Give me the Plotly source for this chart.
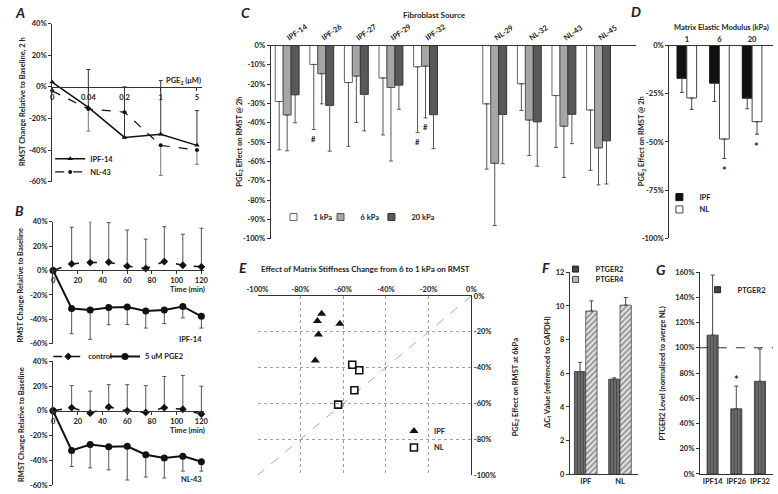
import plotly.graph_objects as go

W, H = 778, 494
def X(px): return px / W
def Y(py): return 1 - py / H

FONT = "Lato"
INK = "#222222"

# ---------------- data ----------------
# Panel A
A_conc = ["0", "0.04", "0.2", "1", "5"]
A_ipf14 = [3, -13, -32, -30, -37]
A_ipf14_err = [0, 24, 32, 34, 22]
A_nl43 = [-2.5, -14, -16, -37, -40]
A_nl43_err = [0, 14, 0, 19, 9]

# Panel B
B_time = [0, 15, 30, 45, 60, 75, 90, 105, 120]
B_ticks = [0, 20, 40, 60, 80, 100, 120]
B1_control = [0, 5.4, 6.5, 6.8, 3.5, 1.6, 7.3, 4.3, 3]
B1_control_err = [0, 30, 33.5, 32.4, 29.7, 24.1, 28.6, 25.4, 31.6]
B1_pge2 = [0, -31.1, -32.4, -30.3, -30, -33.2, -32.4, -29.5, -37.6]
B1_pge2_err = [0, 20.7, 24, 14.2, 14.3, 14, 11.1, 9.4, 9.6]
B2_control = [0, 2.6, -1.9, 3.2, 0, -1.3, 2.6, 1.3, -2.6]
B2_control_err = [0, 17.8, 17.8, 18, 21.2, 21.7, 25.2, 27.3, 22.5]
B2_pge2 = [0, -32, -27.3, -29.1, -28.6, -35.5, -38.1, -36.6, -41.1]
B2_pge2_err = [0, 13, 18.8, 18.6, 27.3, 18, 16.2, 12.1, 7.6]

# Panel C
C_sources = ["IPF-14", "IPF-26", "IPF-27", "IPF-29", "IPF-32", "NL-29", "NL-32", "NL-43", "NL-45"]
C_1kpa = [-29, -9.8, -19.2, -16.8, -11, -30.2, -19.8, -25.9, -33.4]
C_1kpa_err = [25, 33.7, 33, 29.5, 34.1, 33.8, 13.8, 26.8, 31.2]
C_6kpa = [-36, -14.6, -15.8, -21.7, -10.7, -61, -38.6, -41.8, -53]
C_6kpa_err = [18.5, 15.6, 24, 38.1, 26.8, 32.2, 18.4, 26.5, 19.2]
C_20kpa = [-25.5, -31, -25.3, -20.5, -35.8, -35.7, -39.5, -35.6, -49.3]
C_20kpa_err = [14.5, 23.7, 18.9, 12.5, 17.6, 25.5, 23, 15.2, 22.4]
C_hash = [("IPF-26", 0, -48.5), ("IPF-32", 0, -50), ("IPF-32", 1, -42.4)]

# Panel D
D_modulus = ["1", "6", "20"]
D_ipf = [-17, -19.5, -27.3]
D_ipf_err = [7.3, 9.5, 5.5]
D_nl = [-27.2, -48.5, -39.5]
D_nl_err = [5.9, 10.1, 6.5]
D_star = [("6", -64.7), ("20", -52.3)]

# Panel E
E_ipf_x = [-70, -72, -61.5, -71.5, -73]
E_ipf_y = [-10, -14, -15.5, -21.5, -36]
E_nl_x = [-55.7, -52.4, -54.7, -62.3]
E_nl_y = [-38.4, -41.5, -52.6, -60.6]
E_identity = [-100, 0]

# Panel F
F_groups = ["IPF", "NL"]
F_ptger2 = [6.1, 5.65]
F_ptger2_err = [0.55, 0.08]
F_ptger4 = [9.7, 10.05]
F_ptger4_err = [0.6, 0.45]

# Panel G
G_lines = ["IPF14", "IPF26", "IPF32"]
G_ptger2 = [110, 51.6, 73.4]
G_ptger2_err = [47.6, 18, 25.6]
G_star = [("IPF26", 75)]
G_ref = 100

# ---------------- helpers ----------------
FS = 7.5

def tfont(size=FS):
    return dict(family=FONT, size=size, color=INK, weight="bold")

def pct_ticks(lo, hi, step):
    vals = list(range(lo, hi + 1, step))
    return vals, [f"{v}%" for v in vals]

def legend_box(text_x, cy, **kw):
    d = dict(x=X(text_x - 40), y=Y(cy), xanchor="left", yanchor="middle",
             bgcolor="rgba(0,0,0,0)", borderwidth=0, font=tfont(FS),
             itemclick=False, itemdoubleclick=False, tracegroupgap=0)
    d.update(kw)
    return d

def err(plus=None, minus=None, color="#444"):
    n = len(plus if plus is not None else minus)
    return dict(type="data", symmetric=False,
                array=plus if plus is not None else [0] * n,
                arrayminus=minus if minus is not None else [0] * n,
                color=color, thickness=1, width=2)

fig = go.Figure()

# ---------------- Panel A ----------------
A_x = list(range(len(A_conc)))
fig.add_trace(go.Scatter(x=A_x, y=A_ipf14, mode="lines+markers", name="IPF-14",
                         line=dict(color="#111", width=1.5),
                         marker=dict(symbol="triangle-up", size=5, color="#111"),
                         error_y=err(plus=A_ipf14_err, color="#333"),
                         xaxis="x", yaxis="y", legend="legend", cliponaxis=False))
fig.add_trace(go.Scatter(x=A_x, y=A_nl43, mode="lines+markers", name="NL-43",
                         line=dict(color="#111", width=1.2, dash="dash"),
                         marker=dict(symbol="circle", size=4, color="#111"),
                         error_y=err(minus=A_nl43_err, color="#777"),
                         xaxis="x", yaxis="y", legend="legend2", cliponaxis=False))

# ---------------- Panel B ----------------
for ctrl, cerr, pge, perr, xa, ya, sl in [
        (B1_control, B1_control_err, B1_pge2, B1_pge2_err, "x2", "y2", True),
        (B2_control, B2_control_err, B2_pge2, B2_pge2_err, "x3", "y3", False)]:
    fig.add_trace(go.Scatter(x=B_time, y=ctrl, mode="lines+markers", name="control",
                             line=dict(color="#111", width=1.5, dash="dash"),
                             marker=dict(symbol="diamond", size=6, color="#111"),
                             error_y=err(plus=cerr, color="#555"),
                             xaxis=xa, yaxis=ya, legend="legend3", showlegend=sl,
                             cliponaxis=False))
    fig.add_trace(go.Scatter(x=B_time, y=pge, mode="lines+markers", name="5 uM PGE2",
                             line=dict(color="#111", width=2),
                             marker=dict(symbol="circle", size=7, color="#111"),
                             error_y=err(minus=perr, color="#555"),
                             xaxis=xa, yaxis=ya, legend="legend4", showlegend=sl,
                             cliponaxis=False))

# ---------------- Panel C ----------------
C_x = [i + (1 if s.startswith("NL") else 0) for i, s in enumerate(C_sources)]
C_w = 0.23
C_styles = [("1 kPa", C_1kpa, C_1kpa_err, "#ffffff", "#666666", "legend5"),
            ("6 kPa", C_6kpa, C_6kpa_err, "#a6a6a6", "#555555", "legend6"),
            ("20 kPa", C_20kpa, C_20kpa_err, "#595959", "#333333", "legend7")]
for k, (nm, vals, errs, fill, edge, lg) in enumerate(C_styles):
    fig.add_trace(go.Bar(x=C_x, y=vals, width=C_w, offset=(k - 1.5) * C_w,
                         marker=dict(color=fill, line=dict(color=edge, width=1)),
                         error_y=err(minus=errs, color="#555"), name=nm,
                         showlegend=False, xaxis="x4", yaxis="y4"))
    fig.add_trace(go.Scatter(x=[None], y=[None], mode="markers", name=nm,
                             marker=dict(symbol="square", size=7, color=fill,
                                         line=dict(color=edge, width=1)),
                             xaxis="x4", yaxis="y4", legend=lg))

# ---------------- Panel D ----------------
D_x = list(range(len(D_modulus)))
D_w = 0.3
for k, (nm, vals, errs, fill, edge, lg) in enumerate([
        ("IPF", D_ipf, D_ipf_err, "#111111", "#111111", "legend8"),
        ("NL", D_nl, D_nl_err, "#ffffff", "#444444", "legend9")]):
    fig.add_trace(go.Bar(x=D_x, y=vals, width=D_w, offset=(k - 1) * D_w,
                         marker=dict(color=fill, line=dict(color=edge, width=1)),
                         error_y=err(minus=errs, color="#444"), name=nm,
                         showlegend=False, xaxis="x5", yaxis="y5"))
    fig.add_trace(go.Scatter(x=[None], y=[None], mode="markers", name=nm,
                             marker=dict(symbol="square", size=7, color=fill,
                                         line=dict(color=edge, width=1)),
                             xaxis="x5", yaxis="y5", legend=lg))

# ---------------- Panel E ----------------
fig.add_trace(go.Scatter(x=E_identity, y=E_identity, mode="lines", showlegend=False,
                         line=dict(color="#aaa", width=1, dash="dash"),
                         xaxis="x6", yaxis="y6", hoverinfo="skip"))
fig.add_trace(go.Scatter(x=E_ipf_x, y=E_ipf_y, mode="markers", name="IPF",
                         marker=dict(symbol="triangle-up", size=8, color="#111"),
                         xaxis="x6", yaxis="y6", legend="legend10"))
fig.add_trace(go.Scatter(x=E_nl_x, y=E_nl_y, mode="markers", name="NL",
                         marker=dict(symbol="square-open", size=7, color="#111",
                                     line=dict(width=1.6)),
                         xaxis="x6", yaxis="y6", legend="legend11"))

# ---------------- Panel F ----------------
STRIPE = dict(shape="|", fgcolor="#1a1a1a", bgcolor="#777", size=3, solidity=0.5)
HATCH = dict(shape="/", fgcolor="#333", bgcolor="#e6e6e6", size=4, solidity=0.45)
F_x = list(range(len(F_groups)))
F_w = 0.33
fig.add_trace(go.Bar(x=F_x, y=F_ptger2, width=F_w, offset=-F_w, name="PTGER2",
                     marker=dict(color="#666", line=dict(color="#333", width=0.8), pattern=STRIPE),
                     error_y=err(plus=F_ptger2_err, color="#444"), showlegend=False,
                     xaxis="x7", yaxis="y7"))
fig.add_trace(go.Bar(x=F_x, y=F_ptger4, width=F_w, offset=0, name="PTGER4",
                     marker=dict(color="#ddd", line=dict(color="#444", width=0.8), pattern=HATCH),
                     error_y=err(plus=F_ptger4_err, color="#444"), showlegend=False,
                     xaxis="x7", yaxis="y7"))
fig.add_trace(go.Scatter(x=[None], y=[None], mode="markers", name="PTGER2",
                         marker=dict(symbol="square", size=6, color="#444",
                                     line=dict(color="#222", width=1)),
                         xaxis="x7", yaxis="y7", legend="legend12"))
fig.add_trace(go.Scatter(x=[None], y=[None], mode="markers", name="PTGER4",
                         marker=dict(symbol="square", size=6, color="#bbb",
                                     line=dict(color="#444", width=1)),
                         xaxis="x7", yaxis="y7", legend="legend13"))

# ---------------- Panel G ----------------
G_x = list(range(len(G_lines)))
G_w = 0.47
fig.add_trace(go.Bar(x=G_x, y=G_ptger2, width=G_w, offset=-G_w / 2, name="PTGER2",
                     marker=dict(color="#666", line=dict(color="#333", width=0.8), pattern=STRIPE),
                     error_y=err(plus=G_ptger2_err, color="#444"), showlegend=False,
                     xaxis="x8", yaxis="y8"))
fig.add_trace(go.Scatter(x=[None], y=[None], mode="markers", name="PTGER2",
                         marker=dict(symbol="square", size=6, color="#444",
                                     line=dict(color="#222", width=1)),
                         xaxis="x8", yaxis="y8", legend="legend14"))

# ---------------- axes ----------------
base = dict(showgrid=False, zeroline=False, showline=True, linecolor="#333", linewidth=1,
            tickfont=tfont(FS), ticks="outside", ticklen=3, tickcolor="#333", fixedrange=True)

def ax(**kw):
    d = dict(base)
    d.update(kw)
    return d

yA_v, yA_t = pct_ticks(-60, 40, 20)
yC_v, yC_t = pct_ticks(-100, 0, 10)
yD_v, yD_t = pct_ticks(-100, 0, 25)
yE_v, yE_t = pct_ticks(-100, 0, 20)
yG_v, yG_t = pct_ticks(0, 160, 20)
GRID = dict(showgrid=True, gridcolor="#a0a0a0", griddash="dot", gridwidth=1)

layout = dict(
    width=W, height=H, margin=dict(l=0, r=0, t=0, b=0), autosize=False,
    paper_bgcolor="white", plot_bgcolor="white", barmode="overlay",
    font=dict(family=FONT, size=FS, color=INK),
    # A
    xaxis=ax(domain=[X(42), X(195)], range=[0, 4.14], anchor="free", position=Y(85),
             tickvals=A_x, ticktext=A_conc),
    yaxis=ax(domain=[Y(181), Y(20)], range=[-60, 40], tickvals=yA_v, ticktext=yA_t, anchor="x"),
    # B top
    xaxis2=ax(domain=[X(43), X(197.4)], range=[0, 122.4], anchor="free", position=Y(271),
              tickvals=B_ticks),
    yaxis2=ax(domain=[Y(346), Y(221.7)], range=[-60, 40], tickvals=yA_v, ticktext=yA_t, anchor="x2"),
    # B bottom
    xaxis3=ax(domain=[X(43), X(197.4)], range=[0, 122.4], anchor="free", position=Y(414.3),
              tickvals=B_ticks),
    yaxis3=ax(domain=[Y(490), Y(364)], range=[-60, 40], tickvals=yA_v, ticktext=yA_t, anchor="x3"),
    # C
    xaxis4=ax(domain=[X(265), X(638)], range=[-0.48, 10.08], side="top", anchor="y4",
              tickvals=C_x, ticktext=C_sources, tickangle=-35, ticks=""),
    yaxis4=ax(domain=[Y(239), Y(42.3)], range=[-100, 0], tickvals=yC_v, ticktext=yC_t, anchor="x4"),
    # D
    xaxis5=ax(domain=[X(672), X(778)], range=[-0.54, 2.64], side="top", anchor="y5",
              tickvals=D_x, ticktext=D_modulus, ticks=""),
    yaxis5=ax(domain=[Y(238.7), Y(42.3)], range=[-100, 0], tickvals=yD_v, ticktext=yD_t, anchor="x5"),
    # E
    xaxis6=ax(domain=[X(251.7), X(470)], range=[-100, 0], side="top", anchor="y6",
              tickvals=yE_v, ticktext=yE_t, ticks="", **GRID),
    yaxis6=ax(domain=[Y(480), Y(297.3)], range=[-100, 0], side="right", anchor="x6",
              tickvals=yE_v, ticktext=yE_t, ticks="", **GRID),
    # F
    xaxis7=ax(domain=[X(570.7), X(640)], range=[-0.46, 1.52], anchor="y7",
              tickvals=F_x, ticktext=F_groups, ticks=""),
    yaxis7=ax(domain=[Y(479), Y(273.3)], range=[0, 12], dtick=2, anchor="x7"),
    # G
    xaxis8=ax(domain=[X(703.3), X(778)], range=[-0.54, 2.55], anchor="y8",
              tickvals=G_x, ticktext=G_lines, ticks=""),
    yaxis8=ax(domain=[Y(478.7), Y(273)], range=[0, 160], tickvals=yG_v, ticktext=yG_t, anchor="x8"),
    # legends (text start x, centre y)
    legend=legend_box(80, 157.7),
    legend2=legend_box(80, 171),
    legend3=legend_box(78, 359, orientation="h"),
    legend4=legend_box(136, 359, orientation="h"),
    legend5=legend_box(308, 217, orientation="h"),
    legend6=legend_box(356, 217, orientation="h"),
    legend7=legend_box(408, 217, orientation="h"),
    legend8=legend_box(702, 196.7),
    legend9=legend_box(702, 209.3),
    legend10=legend_box(431, 435),
    legend11=legend_box(431, 451.7),
    legend12=legend_box(596, 270),
    legend13=legend_box(596, 280.5),
    legend14=legend_box(741, 291),
)
fig.update_layout(**layout)

# ---------------- annotations ----------------
ann = []
def note(text, px, py, size=FS, angle=0, xanchor="center"):
    ann.append(dict(text=text, x=X(px), y=Y(py), xref="paper", yref="paper",
                    showarrow=False, font=tfont(size), textangle=angle,
                    xanchor=xanchor, yanchor="middle"))

for letter, px, py in [("A", 9, 9), ("B", 9, 210), ("C", 239, 9), ("D", 638, 8),
                       ("E", 237, 268), ("F", 546, 268), ("G", 664, 270)]:
    note(f"<b><i>{letter}</i></b>", px, py, size=14)

note("PGE<sub>2</sub> (μM)", 176, 78)
note("Time (min)", 180, 291)
note("Time (min)", 180, 434)
note("IPF-14", 183, 342)
note("NL-43", 184, 484)
note("Fibroblast Source", 432, 11, size=8)
note("Matrix Elastic Modulus (kPa)", 725, 24, size=7.5)
note("Effect of Matrix Stiffness Change from 6 to 1 kPa on RMST", 362, 270, size=8)

note("RMST Change Relative to Baseline, 2 h", 11, 99, angle=-90)
note("RMST Change Relative to Baseline", 10, 286, angle=-90)
note("RMST Change Relative to Baseline", 10, 428, angle=-90)
note("PGE<sub>2</sub> Effect on RMST @ 2h", 234, 140, angle=-90)
note("PGE<sub>2</sub> Effect on RMST @ 2h", 645, 140, angle=-90)
note("PGE<sub>2</sub> Effect on RMST at 6kPa", 515, 390, angle=-90)
note("ΔC<sub>t</sub> Value (referenced to GAPDH)", 548, 375, angle=-90)
note("PTGER2 Level (normalized to averge NL)", 665, 376, angle=-90)

for src, k, yv in C_hash:
    xi = C_x[C_sources.index(src)] + (k - 1) * C_w
    ann.append(dict(text="#", x=xi, y=yv, xref="x4", yref="y4", showarrow=False,
                    font=tfont(7.5)))
for mod, yv in D_star:
    ann.append(dict(text="*", x=D_x[D_modulus.index(mod)] + D_w / 2, y=yv, xref="x5",
                    yref="y5", showarrow=False, font=tfont(11)))
for ln, yv in G_star:
    ann.append(dict(text="*", x=G_x[G_lines.index(ln)], y=yv, xref="x8", yref="y8",
                    showarrow=False, font=tfont(11)))

fig.update_layout(annotations=ann)
fig.add_shape(type="line", xref="x8 domain", yref="y8", x0=0, x1=1, y0=G_ref, y1=G_ref,
              line=dict(color="#333", width=1, dash="dash"))

# the page body gets no default margin so the figure sits at the window's corner
fig.write_html("out.html", config={"displayModeBar": False},
               post_script="document.body.style.margin='0';document.body.style.padding='0';")
